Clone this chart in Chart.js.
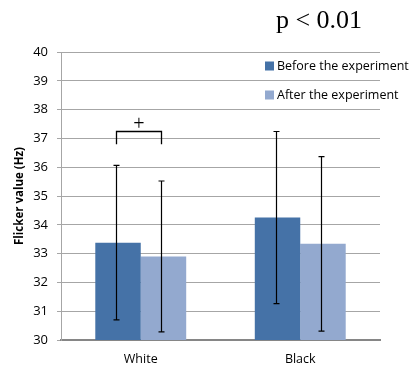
<!DOCTYPE html>
<html>
<head>
<meta charset="utf-8">
<script src="https://cdn.jsdelivr.net/npm/chart.js@4/dist/chart.umd.min.js"></script>
<style>
    html, body { margin: 0; padding: 0; background: #ffffff; }
    #wrap { position: relative; width: 416px; height: 366px; }
</style>
</head>
<body>
<div id="wrap"><canvas id="flicker"></canvas></div>
<script>
// Flicker-waarde voor/na het experiment, per achtergrondkleur, met SD-foutbalken.

const CATEGORIES = ['White', 'Black'];
const SERIES_LABELS = ['Before the experiment', 'After the experiment'];
const SERIES_COLORS = ['#4572a7', '#93a9cf'];
const BEFORE = [33.38, 34.25];
const AFTER = [32.9, 33.34];
const BEFORE_SD = [2.68, 2.99];
const AFTER_SD = [2.62, 3.03];
const Y_TICKS = [30, 31, 32, 33, 34, 35, 36, 37, 38, 39, 40];
const TITLE = 'p < 0.01';
const SIG_MARK = '+';

const FONT = '"Open Sans", Lato, sans-serif';

// foutbalken, significantiehaak, legenda en p-waarde
const extras = {
    id: 'extras',
    afterDatasetsDraw(chart) {
        const { ctx, scales: { y } } = chart;
        const sds = [BEFORE_SD, AFTER_SD];
        const vals = [BEFORE, AFTER];

        ctx.save();
        ctx.strokeStyle = '#000000';
        ctx.lineWidth = 1.2;
        chart.data.datasets.forEach((ds, di) => {
            const meta = chart.getDatasetMeta(di);
            meta.data.forEach((bar, i) => {
                const x = Math.round(bar.x - 2) + 0.5;
                const top = y.getPixelForValue(vals[di][i] + sds[di][i]);
                const bot = y.getPixelForValue(vals[di][i] - sds[di][i]);
                ctx.beginPath();
                ctx.moveTo(x, top);
                ctx.lineTo(x, bot);
                ctx.moveTo(x - 3, top);
                ctx.lineTo(x + 3, top);
                ctx.moveTo(x - 3, bot);
                ctx.lineTo(x + 3, bot);
                ctx.stroke();
            });
        });

        // haak tussen voor en na bij White
        const xa = Math.round(chart.getDatasetMeta(0).data[0].x - 2) + 0.5;
        const xb = Math.round(chart.getDatasetMeta(1).data[0].x - 2) + 0.5;
        const yTop = Math.round(y.getPixelForValue(37.25)) + 0.5;
        const yLow = y.getPixelForValue(36.8);
        ctx.lineWidth = 1.3;
        ctx.beginPath();
        ctx.moveTo(xa, yLow);
        ctx.lineTo(xa, yTop);
        ctx.lineTo(xb, yTop);
        ctx.lineTo(xb, yLow);
        ctx.stroke();
        ctx.fillStyle = '#000000';
        ctx.font = '20px "Liberation Serif", serif';
        ctx.textAlign = 'center';
        ctx.textBaseline = 'middle';
        ctx.fillText(SIG_MARK, (xa + xb) / 2, yTop - 7);

        // legenda
        ctx.font = '12.5px ' + FONT;
        ctx.textAlign = 'left';
        const rows = [66, 95];
        SERIES_LABELS.forEach((lab, i) => {
            ctx.fillStyle = SERIES_COLORS[i];
            ctx.fillRect(265, rows[i] - 4.5, 9, 9);
            ctx.fillStyle = '#000000';
            ctx.fillText(lab, 277, rows[i] + 0.5);
        });

        // p-waarde
        ctx.font = '26px "Liberation Serif", serif';
        ctx.textAlign = 'center';
        ctx.fillText(TITLE, 319, 21);
        ctx.restore();
    }
};

new Chart(document.getElementById('flicker'), {
    type: 'bar',
    data: {
        labels: CATEGORIES,
        datasets: [
            { label: SERIES_LABELS[0], data: BEFORE, backgroundColor: SERIES_COLORS[0] },
            { label: SERIES_LABELS[1], data: AFTER, backgroundColor: SERIES_COLORS[1] }
        ]
    },
    options: {
        responsive: true,
        maintainAspectRatio: false,
        animation: false,
        layout: { padding: { top: 52, right: 36, bottom: 0, left: 0 } },
        datasets: { bar: { categoryPercentage: 0.57, barPercentage: 1.0 } },
        plugins: {
            legend: { display: false },
            tooltip: { enabled: false }
        },
        scales: {
            x: {
                grid: { display: false },
                border: { color: '#868686', width: 2 },
                ticks: { color: '#000000', font: { family: FONT, size: 12.5 }, padding: 4 },
                afterFit: s => { s.height = 26; }
            },
            y: {
                min: 30,
                max: 40,
                afterBuildTicks: s => { s.ticks = Y_TICKS.map(v => ({ value: v })); },
                grid: { color: '#a6a6a6', tickLength: 4 },
                border: { color: '#a6a6a6', width: 1 },
                ticks: { color: '#000000', font: { family: FONT, size: 13 }, padding: 9 },
                title: {
                    display: true,
                    text: 'Flicker value (Hz)',
                    color: '#000000',
                    font: { family: FONT, size: 11.5, weight: 'bold' },
                    padding: { top: 13, bottom: 0 }
                },
                afterFit: s => { s.width = 61; }
            }
        }
    },
    plugins: [extras]
});
</script>
</body>
</html>
